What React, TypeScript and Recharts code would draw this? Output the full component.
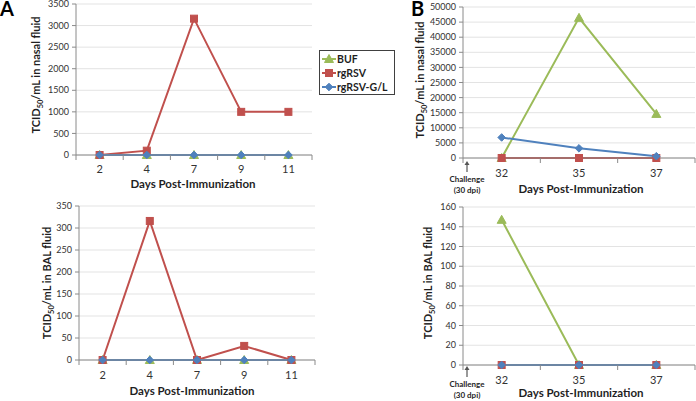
import React from 'react';
import { LineChart, Line, XAxis, YAxis, CartesianGrid, Legend } from 'recharts';

// series
const seriesNames = ['BUF', 'rgRSV', 'rgRSV-G/L'];
const seriesColors = ['#9BBB59', '#C0504D', '#4F81BD'];
const seriesShapes = ['triangle', 'square', 'diamond'];

// panel A (days post-immunization)
const daysA = ['2', '4', '7', '9', '11'];
const nasalA_BUF = [0, 0, 0, 0, 0];
const nasalA_rgRSV = [0, 100, 3160, 1000, 1000];
const nasalA_GL = [0, 0, 0, 0, 0];
const nasalA_ticks = [0, 500, 1000, 1500, 2000, 2500, 3000, 3500];

const balA_BUF = [0, 0, 0, 0, 0];
const balA_rgRSV = [0, 316, 0, 32, 0];
const balA_GL = [0, 0, 0, 0, 0];
const balA_ticks = [0, 50, 100, 150, 200, 250, 300, 350];

// panel B (after challenge)
const daysB = ['32', '35', '37'];
const nasalB_BUF = [0, 46400, 14600];
const nasalB_rgRSV = [0, 0, 0];
const nasalB_GL = [6800, 3200, 600];
const nasalB_ticks = [0, 5000, 10000, 15000, 20000, 25000, 30000, 35000, 40000, 45000, 50000];

const balB_BUF = [147, 0, 0];
const balB_rgRSV = [0, 0, 0];
const balB_GL = [0, 0, 0];
const balB_ticks = [0, 20, 40, 60, 80, 100, 120, 140, 160];

const AXIS = '#8a8a8a';
const GRID = '#e3e3e3';
const TEXT = '#1f1f1f';
const FONT = 'Lato, "Open Sans", sans-serif';

function buildRows(days: string[], a: number[], b: number[], c: number[]) {
  return days.map((d, i) => ({ day: d, [seriesNames[0]]: a[i], [seriesNames[1]]: b[i], [seriesNames[2]]: c[i] }));
}

function MarkerShape({ shape, cx, cy, color }: { shape: string; cx: number; cy: number; color: string }) {
  if (shape === 'triangle') {
    return <polygon points={`${cx},${cy - 4.5} ${cx + 4.5},${cy + 3.5} ${cx - 4.5},${cy + 3.5}`} fill={color} stroke={color} />;
  }
  if (shape === 'square') {
    return <rect x={cx - 3.5} y={cy - 3.5} width={7} height={7} fill={color} stroke={color} />;
  }
  return <polygon points={`${cx},${cy - 3.8} ${cx + 3.8},${cy} ${cx},${cy + 3.8} ${cx - 3.8},${cy}`} fill={color} stroke={color} />;
}

interface PanelProps {
  rows: any[];
  n: number;
  ticks: number[];
  left: number;
  top: number;
  width: number;
  height: number;
  marginTop: number;
  marginRight: number;
  yWidth: number;
  xHeight: number;
  tickGap: number;
  legend?: boolean;
}

function LegendBox() {
  return (
    <div style={{ width: 76, height: 45, border: '1px solid #404040', background: '#fff', fontFamily: FONT, boxSizing: 'border-box', paddingTop: 1 }}>
      {seriesNames.map((name, i) => (
        <div key={name} style={{ height: 14, display: 'flex', alignItems: 'center', whiteSpace: 'nowrap' }}>
          <svg width={17} height={14} style={{ display: 'block', flex: 'none' }}>
            <line x1={2} x2={16} y1={7} y2={7} stroke={seriesColors[i]} strokeWidth={2} />
            <MarkerShape shape={seriesShapes[i]} cx={9} cy={7} color={seriesColors[i]} />
          </svg>
          <span style={{ fontSize: 10.5, fontWeight: 700, color: TEXT, lineHeight: '14px' }}>{name}</span>
        </div>
      ))}
    </div>
  );
}

function Panel(p: PanelProps) {
  const plotLeft = p.yWidth;
  const plotRight = p.width - p.marginRight;
  const axisY = p.height - p.xHeight;
  const band = (plotRight - plotLeft) / p.n;

  const renderTick = (props: any) => {
    const { x, payload, index } = props;
    return (
      <g>
        <line x1={x - band / 2} x2={x - band / 2} y1={axisY} y2={axisY + 5} stroke={AXIS} />
        {index === p.n - 1 && <line x1={x + band / 2} x2={x + band / 2} y1={axisY} y2={axisY + 5} stroke={AXIS} />}
        <text x={x} y={axisY + p.tickGap} dy="0.35em" textAnchor="middle" fontSize={11} fill="#333" fontFamily={FONT}>
          {payload.value}
        </text>
      </g>
    );
  };

  return (
    <div style={{ position: 'absolute', left: p.left, top: p.top }}>
      <LineChart
        width={p.width}
        height={p.height}
        data={p.rows}
        margin={{ top: p.marginTop, right: p.marginRight, bottom: 0, left: 0 }}
      >
        <CartesianGrid vertical={false} stroke={GRID} />
        <XAxis
          dataKey="day"
          interval={0}
          height={p.xHeight}
          padding={{ left: band / 2, right: band / 2 }}
          tick={renderTick}
          tickLine={false}
          axisLine={{ stroke: AXIS }}
        />
        <YAxis
          width={p.yWidth}
          domain={[p.ticks[0], p.ticks[p.ticks.length - 1]]}
          ticks={p.ticks}
          interval={0}
          tickSize={4}
          tickMargin={3}
          tickLine={{ stroke: AXIS }}
          axisLine={{ stroke: AXIS }}
          tick={{ fontSize: 9, fill: '#333', fontFamily: FONT }}
        />
        {p.legend && (
          <Legend
            layout="vertical"
            align="center"
            verticalAlign="middle"
            content={() => <LegendBox />}
            wrapperStyle={{ position: 'absolute', left: 19, top: 50, width: 76, height: 45 }}
          />
        )}
        {seriesNames.map((name, i) => (
          <Line
            key={name}
            type="linear"
            dataKey={name}
            stroke={seriesColors[i]}
            strokeWidth={2}
            isAnimationActive={false}
            dot={(d: any) => (
              <MarkerShape key={`${name}-${d.index}`} shape={seriesShapes[i]} cx={d.cx} cy={d.cy} color={seriesColors[i]} />
            )}
            activeDot={false}
          />
        ))}
      </LineChart>
    </div>
  );
}

function YTitle({ x, y, text }: { x: number; y: number; text: string }) {
  return (
    <text transform={`translate(${x},${y}) rotate(-90)`} textAnchor="middle" fontSize={11} fontWeight={700} fill={TEXT} fontFamily={FONT}>
      <tspan>TCID</tspan>
      <tspan fontSize={7.5} dy={3}>50</tspan>
      <tspan dy={-3}>{text}</tspan>
    </text>
  );
}

function XTitle({ x, y }: { x: number; y: number }) {
  return (
    <text x={x} y={y} dy="0.35em" textAnchor="middle" fontSize={11.5} fontWeight={700} fill={TEXT} fontFamily={FONT}>
      Days Post-Immunization
    </text>
  );
}

function Challenge({ x, y }: { x: number; y: number }) {
  return (
    <g fontFamily={FONT} fontWeight={700} fontSize={8} fill={TEXT}>
      <line x1={x} x2={x} y1={y + 11} y2={y + 2} stroke="#555" strokeWidth={1.2} />
      <polygon points={`${x},${y} ${x + 2.5},${y + 4} ${x - 2.5},${y + 4}`} fill="#555" />
      <text x={x} y={y + 18} dy="0.35em" textAnchor="middle">Challenge</text>
      <text x={x} y={y + 29} dy="0.35em" textAnchor="middle">(30 dpi)</text>
    </g>
  );
}

export default function App() {
  return (
    <div style={{ position: 'absolute', left: 0, top: 0, width: 696, height: 401, background: '#fff', overflow: 'hidden' }}>
      <Panel rows={buildRows(daysA, nasalA_BUF, nasalA_rgRSV, nasalA_GL)} n={daysA.length} ticks={nasalA_ticks}
        left={0} top={0} width={330} height={200} marginTop={4} marginRight={18} yWidth={76} xHeight={45} tickGap={14} />
      <Panel rows={buildRows(daysA, balA_BUF, balA_rgRSV, balA_GL)} n={daysA.length} ticks={balA_ticks}
        left={0} top={200} width={330} height={201} marginTop={6} marginRight={15} yWidth={79} xHeight={41} tickGap={15} />
      <Panel rows={buildRows(daysB, nasalB_BUF, nasalB_rgRSV, nasalB_GL)} n={daysB.length} ticks={nasalB_ticks}
        left={300} top={0} width={396} height={200} marginTop={7} marginRight={1} yWidth={163} xHeight={42} tickGap={15} legend />
      <Panel rows={buildRows(daysB, balB_BUF, balB_rgRSV, balB_GL)} n={daysB.length} ticks={balB_ticks}
        left={300} top={200} width={396} height={201} marginTop={7} marginRight={1} yWidth={163} xHeight={36} tickGap={15} />
      <svg width={696} height={401} style={{ position: 'absolute', left: 0, top: 0, pointerEvents: 'none' }}>
        <text x={0} y={16} fontSize={20} fontWeight={700} fill="#000" fontFamily={FONT}>A</text>
        <text x={411} y={16} fontSize={20} fontWeight={700} fill="#000" fontFamily={FONT}>B</text>
        <YTitle x={40} y={75} text="/mL in nasal fluid" />
        <YTitle x={51} y={283} text="/mL in BAL fluid" />
        <YTitle x={424} y={80} text="/mL in nasal fluid" />
        <YTitle x={432} y={283} text="/mL in BAL fluid" />
        <XTitle x={193} y={184} />
        <XTitle x={192} y={391} />
        <XTitle x={581} y={189} />
        <XTitle x={581} y={393} />
        <Challenge x={467} y={161} />
        <Challenge x={467} y={366} />
      </svg>
    </div>
  );
}
